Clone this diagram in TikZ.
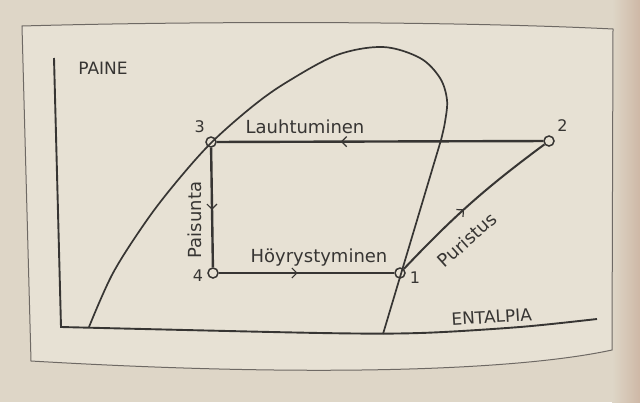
\documentclass[tikz,border=0pt]{standalone}
\usepackage{fontspec}
\setmainfont{DejaVu Sans}
\usetikzlibrary{arrows.meta, decorations.markings, positioning}

\definecolor{paperback}{RGB}{222,214,199}
\definecolor{sheet}{RGB}{231,225,212}
\definecolor{paperedge}{RGB}{206,184,166}
\definecolor{inkgray}{RGB}{55,53,51}
\definecolor{frameink}{RGB}{110,105,100}

\begin{document}
\begin{tikzpicture}[
            x=1pt, y=-1pt,
            state_point/.style={circle, draw=inkgray, line width=1.5pt, minimum size=10pt, inner sep=0pt},
            state_label/.style={inner sep=0pt, text=inkgray, font=\fontsize{16}{18}\selectfont},
            process_label/.style={inner sep=0pt, text=inkgray, font=\fontsize{18}{20}\selectfont},
            axis_label/.style={inner sep=0pt, text=inkgray, font=\fontsize{17}{19}\selectfont, anchor=base},
            cycle_line/.style={draw=inkgray, line width=2.4pt},
            dome_line/.style={draw=inkgray, line width=1.7pt, line join=round},
            axis_line/.style={draw=inkgray, line width=1.9pt},
            frame_line/.style={draw=frameink, line width=1pt},
            flow_arrow/.style={postaction={decorate}, decoration={markings, mark=at position #1 with {\arrow{Straight Barb[length=5pt, width=10pt, line width=1.2pt]}}}}
        ]

        \fill[paperback] (0,0) rectangle (640,402);
        \shade[left color=paperback, right color=paperedge] (612,0) rectangle (640,402);
        \useasboundingbox (0,0) rectangle (640,402);
        \filldraw[fill=sheet, frame_line] (22,26) .. controls (200,21) and (450,21) .. (613,29)
          -- (612,350) .. controls (520,370) and (320,378) .. (31,361) -- cycle;

        \draw[axis_line] (54,58) -- plot[smooth, tension=0.5] coordinates {(61,327) (320,333) (420,333) (520,327) (597,319)};

        \draw[dome_line] plot[smooth, tension=0.55] coordinates {(89,327) (113,273) (147,220) (178,180) (212,142) (253,106) (287,82) (337,55) (383,47) (420,58) (440,78) (447,100) (445,122) (441,140)} -- (383,334);

        \node[state_point] (p3) at (211,142) {};
        \node[state_point] (p2) at (549,141) {};
        \node[state_point] (p4) at (213,273) {};
        \node[state_point] (p1) at (400,273) {};

        \node[state_label, above left=5pt and 2pt of p3] (num3) {3};
        \node[state_label, above right=5pt and 4pt of p2] (num2) {2};
        \node[state_label, left=4pt of p4, yshift=-3pt] (num4) {4};
        \node[state_label, right=4pt of p1, yshift=-5pt] (num1) {1};

        \node[process_label, anchor=base] (cond_text) at (305,133) {Lauhtuminen};
        \node[process_label, anchor=base] (evap_text) at (319,262) {Höyrystyminen};
        \node[process_label, rotate=90] (exp_text) at (195,220) {Paisunta};
        \node[process_label, rotate=42] (comp_text) at (467,240) {Puristus};

        \node[axis_label] (p_axis) at (103,74) {PAINE};
        \node[axis_label, rotate=3.5] (h_axis) at (492,323) {ENTALPIA};

        \draw[cycle_line, flow_arrow=0.62] (p2) -- (p3);
        \draw[cycle_line, flow_arrow=0.52] (p3) -- (p4);
        \draw[cycle_line, flow_arrow=0.45] (p4) -- (p1);
        \draw[cycle_line, line width=2pt, flow_arrow=0.45] (p1) to[bend left=5] (p2);

\end{tikzpicture}
\end{document}
